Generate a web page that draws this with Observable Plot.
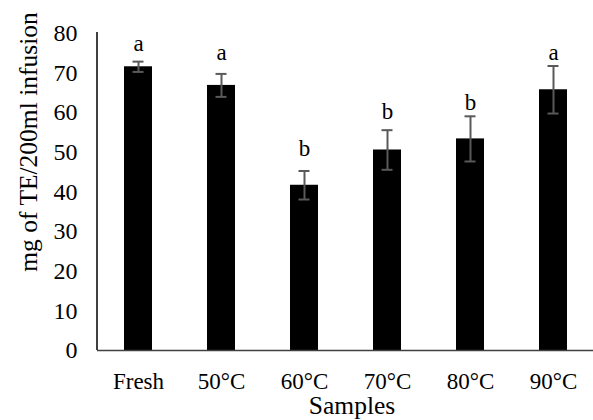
<!DOCTYPE html>
<html><head><meta charset="utf-8">
<script src="https://cdn.jsdelivr.net/npm/d3@7"></script>
<script src="https://cdn.jsdelivr.net/npm/@observablehq/plot@0.6"></script>
<style>body{margin:0;background:#fff;} svg{font-family:"Liberation Serif","Times New Roman",serif;}</style>
</head><body><div id="chart"></div>
<script>
const samples = ["Fresh","50°C","60°C","70°C","80°C","90°C"];
const means = [71.6, 66.9, 41.7, 50.6, 53.4, 65.8];
const errors = [1.3, 2.9, 3.6, 5.0, 5.7, 6.0];
const letters = ["a","a","b","b","b","a"];
const letterPos = [75.7, 73.4, 49.0, 58.3, 60.6, 73.4];
const yTicks = [0,10,20,30,40,50,60,70,80];

const data = samples.map((s,i)=>({sample:s, mean:means[i], err:errors[i], lo:means[i]-errors[i], hi:means[i]+errors[i], letter:letters[i], lpos:letterPos[i]}));

const chart = Plot.plot({
  width: 593, height: 420,
  marginTop: 33, marginBottom: 70, marginLeft: 97, marginRight: -2,
  style: {fontFamily: '"Liberation Serif","Times New Roman",serif', fontSize: "23px", color: "#000", background: "#fff"},
  x: {domain: samples, paddingInner: 0.66, paddingOuter: 0.33, label: null, tickSize: 0, tickPadding: 22},
  y: {domain: [0,80], ticks: yTicks, tickSize: 0, tickPadding: 20, label: null},
  marks: [
    Plot.barY(data, {x:"sample", y:"mean", fill:"#000"}),
    Plot.ruleX(data, {x:"sample", y1:"lo", y2:"hi", stroke:"#595959", strokeWidth:2}),
    Plot.tickY(data, {x:"sample", y:"lo", stroke:"#595959", strokeWidth:2, insetLeft:8.5, insetRight:8.5}),
    Plot.tickY(data, {x:"sample", y:"hi", stroke:"#595959", strokeWidth:2, insetLeft:8.5, insetRight:8.5}),
    Plot.text(data, {x:"sample", y:"lpos", text:"letter", fontSize:23, lineAnchor:"bottom", fill:"#000"}),
    Plot.ruleY([0], {stroke:"#404040", strokeWidth:1.5}),
    Plot.text(["Samples"], {frameAnchor:"bottom", lineAnchor:"bottom", dx:5.5, dy:63, fontSize:25.5, fill:"#000"}),
    Plot.text(["mg of TE/200ml infusion"], {frameAnchor:"left", textAnchor:"middle", lineAnchor:"bottom", rotate:-90, dx:-61, dy:-50, fontSize:25.5, fill:"#000"})
  ]
});
const svg = d3.select(chart);
svg.selectAll("g[aria-label='y-axis tick label'] text, g[aria-label='y-axis tick label']").attr("font-size", 24);
svg.append("line").attr("x1",97).attr("x2",97).attr("y1",32).attr("y2",350).attr("stroke","#000").attr("stroke-width",1.5);
document.getElementById("chart").appendChild(chart);
</script></body></html>
